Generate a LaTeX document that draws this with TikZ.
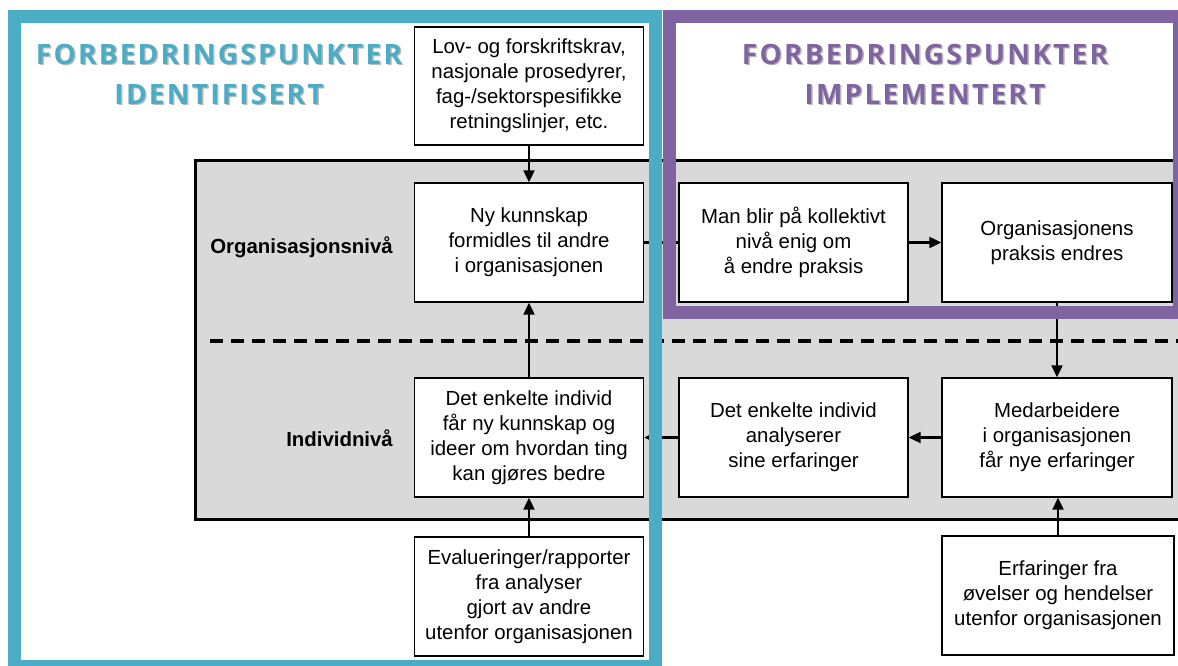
\documentclass[tikz,border=0pt]{standalone}
\usepackage{fontspec}
\setmainfont{Liberation Sans}
\newfontfamily\titlefont[LetterSpace=8]{Open Sans}
\usetikzlibrary{arrows.meta}
\definecolor{frameblue}{HTML}{4BACC6}
\definecolor{framepurple}{HTML}{8064A2}
\definecolor{levelgray}{HTML}{D9D9D9}
\tikzset{
  stepbox/.style={draw=black, line width=1.4pt, fill=white, align=center,
    inner sep=0pt, minimum width=229pt, minimum height=119pt,
    font=\fontsize{20.4pt}{25pt}\selectfont},
  levellabel/.style={anchor=east, inner sep=0pt, font=\fontsize{20.4pt}{25pt}\selectfont\bfseries},
  flow/.style={line width=2.2pt, -{Triangle[length=12pt,width=11pt]}},
  frame/.style={line width=13pt},
  heading/.style={align=center, inner sep=0pt, font=\fontsize{28pt}{40pt}\titlefont\bfseries},
}
\begin{document}
\begin{tikzpicture}[x=1pt,y=-1pt]
\useasboundingbox (0,0) rectangle (1178,666);
\fill[white] (0,0) rectangle (1178,666);

% the two levels
\draw[line width=3pt, fill=levelgray] (195,161) rectangle (1200,519);
\draw[line width=3.5pt, dash pattern=on 13pt off 8pt] (210,341) -- (1200,341);
\node[levellabel] (orglvl) at (393,247) {Organisasjonsnivå};
\node[levellabel] (indlvl) at (393,438) {Individnivå};

% steps
\node[stepbox, minimum height=118pt] (lov) at (529,86) {Lov- og forskriftskrav,\\nasjonale prosedyrer,\\fag-/sektorspesifikke\\retningslinjer, etc.};
\node[stepbox] (ny)  at (529,242.5)  {Ny kunnskap\\formidles til andre\\i organisasjonen};
\node[stepbox] (man) at (793.5,242.5) {Man blir på kollektivt\\nivå enig om\\å endre praksis};
\node[stepbox, minimum width=230pt] (org) at (1057,242.5) {Organisasjonens\\praksis endres};
\node[stepbox] (ind) at (529,437.5) {Det enkelte individ\\får ny kunnskap og\\ideer om hvordan ting\\kan gjøres bedre};
\node[stepbox] (ana) at (793.5,437.5) {Det enkelte individ\\analyserer\\sine erfaringer};
\node[stepbox, minimum width=230pt] (med) at (1057,437.5) {Medarbeidere\\i organisasjonen\\får nye erfaringer};
\node[stepbox] (eva) at (529,596.5) {Evalueringer/rapporter\\fra analyser\\gjort av andre\\utenfor organisasjonen};
\node[stepbox, minimum width=232pt] (erf) at (1058,595.5) {Erfaringer fra\\øvelser og hendelser\\utenfor organisasjonen};

% connectors
\draw[flow] (lov.south) -- (ny.north);
\draw[flow] (ind.north) -- (ny.south);
\draw[flow] (eva.north) -- (ind.south);
\draw[line width=2.2pt] (ny.east) -- (man.west);
\draw[flow] (man.east) -- (org.west);
\draw[flow] (org.south) -- (med.north);
\draw[flow] (med.west) -- (ana.east);
\draw[flow] (ana.west) -- (ind.east);
\draw[flow] (erf.north) -- (erf.north |- med.south);

% frames
\draw[frame, frameblue] (14,16.5) rectangle (655,666.5);
\draw[frame, framepurple] (669.5,16.5) rectangle (1179.5,312);

% headings with soft shadow
\node[heading, text=black!45, opacity=0.6] at (220.5,75.5) {FORBEDRINGSPUNKTER\\IDENTIFISERT};
\node[heading, text=frameblue] (idhead) at (219,74) {FORBEDRINGSPUNKTER\\IDENTIFISERT};
\node[heading, text=black!45, opacity=0.6] at (926.5,75.5) {FORBEDRINGSPUNKTER\\IMPLEMENTERT};
\node[heading, text=framepurple] (imphead) at (925,74) {FORBEDRINGSPUNKTER\\IMPLEMENTERT};
\end{tikzpicture}
\end{document}
